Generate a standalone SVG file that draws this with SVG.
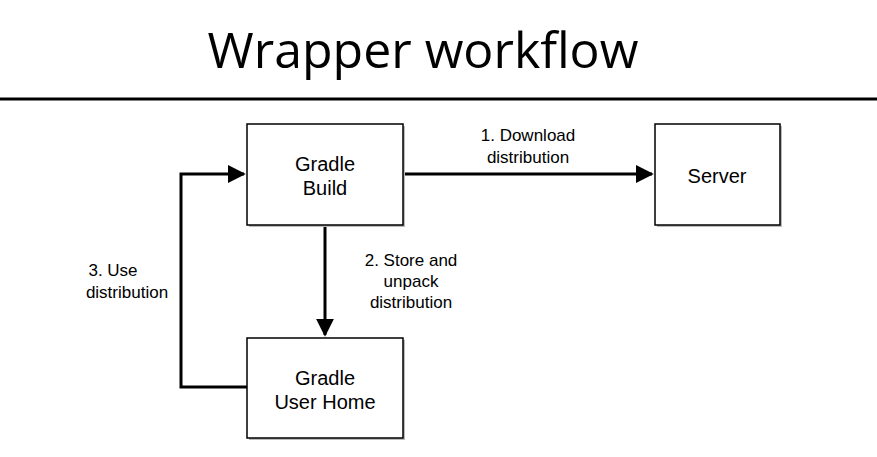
<svg xmlns="http://www.w3.org/2000/svg" width="877" height="457" viewBox="0 0 877 457">
<style>
.box{fill:#fff;stroke:#000;stroke-width:1.5}
.sh{fill:#bbb}
.t{font-family:"Liberation Sans",Arial,sans-serif;font-size:20px;text-anchor:middle;fill:#000}
.l{font-family:"Liberation Sans",Arial,sans-serif;font-size:17px;text-anchor:middle;fill:#000}
.c{fill:none;stroke:#000;stroke-width:3}
</style>
<defs><marker id="b" viewBox="0 0 10 10" refX="9" refY="5" markerWidth="6" markerHeight="6" orient="auto"><path d="M0,0L10,5L0,10z"/></marker></defs>
<rect width="877" height="457" fill="#fff"/>
<text x="423" y="68" font-family="Open Sans,sans-serif" font-size="50" text-anchor="middle">Wrapper workflow</text>
<line x1="0" y1="99" x2="877" y2="99" stroke="#000" stroke-width="3"/>
<g id="connectors">
<path class="c" d="M403,174H652" marker-end="url(#b)"/>
<path class="c" d="M325,225V335" marker-end="url(#b)"/>
<path class="c" d="M247,387H181V174H244" marker-end="url(#b)"/>
<text class="l" x="528" y="141">1. Download</text>
<text class="l" x="528" y="163">distribution</text>
<text class="l" x="411" y="266">2. Store and</text>
<text class="l" x="411" y="287">unpack</text>
<text class="l" x="411" y="308">distribution</text>
<text class="l" x="113" y="276">3. Use</text>
<text class="l" x="127" y="298">distribution</text>
</g>
<g id="build"><rect class="sh" x="249" y="126" width="156" height="101"/><rect class="box" x="247" y="124" width="156" height="101"/><text class="t" x="325" y="171">Gradle</text><text class="t" x="325" y="195">Build</text></g>
<g id="server"><rect class="sh" x="657" y="126" width="125" height="101"/><rect class="box" x="655" y="124" width="125" height="101"/><text class="t" x="717" y="183">Server</text></g>
<g id="home"><rect class="sh" x="249" y="340" width="156" height="100"/><rect class="box" x="247" y="338" width="156" height="100"/><text class="t" x="325" y="385">Gradle</text><text class="t" x="325" y="409">User Home</text></g>
</svg>
